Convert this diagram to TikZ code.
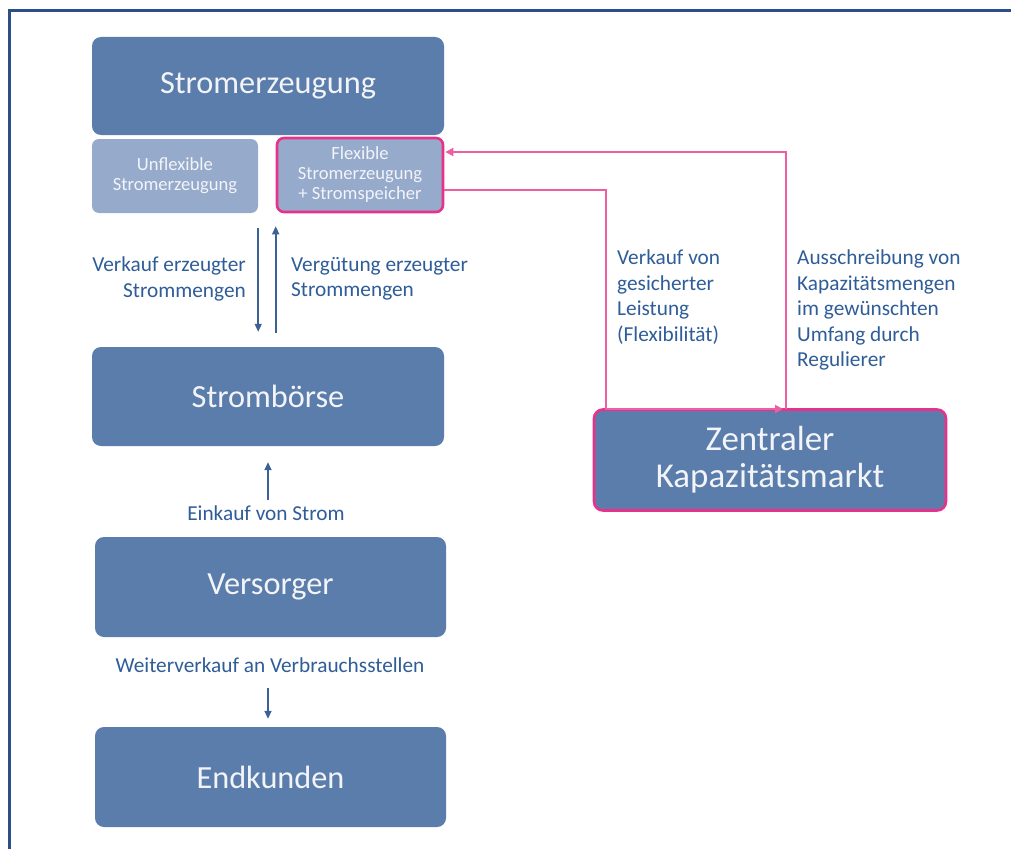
\documentclass[tikz,border=0pt]{standalone}
\usepackage{fontspec}
\setmainfont{Carlito}
\usetikzlibrary{arrows.meta}
\definecolor{boxdark}{HTML}{5B7DAB}
\definecolor{boxlight}{HTML}{96AACB}
\definecolor{labelblue}{HTML}{2F5D98}
\definecolor{arrowblue}{HTML}{3C6196}
\definecolor{framec}{HTML}{2B4F86}
\definecolor{pinkc}{HTML}{E8318A}
\definecolor{pinkl}{HTML}{EE5EA2}
\definecolor{boxtext}{HTML}{F2F4F8}
\tikzset{
  bigbox/.style={fill=boxdark, rounded corners=9pt, minimum width=352pt, minimum height=99pt, inner sep=0pt, text=boxtext, font=\fontsize{32.3}{37}\selectfont, align=center},
  smallbox/.style={fill=boxlight, rounded corners=7pt, minimum width=166pt, minimum height=74pt, inner sep=0pt, text=boxtext, font=\fontsize{18.6}{20}\selectfont, align=center},
  pinkborder/.style={draw=pinkc, line width=2.6pt},
  lbl/.style={text=labelblue, font=\fontsize{21.3}{25.5}\selectfont, inner sep=0pt},
  barrow/.style={draw=arrowblue, line width=1.6pt, -{Triangle[width=7pt,length=8pt]}},
  parrow/.style={draw=pinkl, line width=2pt, -{Triangle[width=8pt,length=8pt]}, rounded corners=0pt},
}
\begin{document}
\begin{tikzpicture}[x=1pt,y=-1pt]
\useasboundingbox (0,0) rectangle (1011,848);
\fill[white] (0,0) rectangle (1011,848);
\draw[framec, line width=2.8pt] (9.5,860) -- (9.5,10.5) -- (1020,10.5);

% boxes
\node[bigbox, minimum height=98pt] (erz) at (268,86) {Stromerzeugung};
\node[smallbox] (unflex) at (175,176) {Unflexible\\Stromerzeugung};
\node[smallbox, pinkborder] (flex) at (360,175) {Flexible\\Stromerzeugung\\+ Stromspeicher};
\node[bigbox] (boerse) at (268,396.5) {Strombörse};
\node[bigbox, minimum width=351pt, minimum height=100pt] (vers) at (270.5,587) {Versorger};
\node[bigbox, minimum width=351pt, minimum height=100pt] (endk) at (270.5,777) {Endkunden};
\node[bigbox, pinkborder, minimum height=101pt, font=\fontsize{34.9}{37}\selectfont] (zent) at (770,460) {Zentraler\\Kapazitätsmarkt};

% blue arrows
\draw[barrow, shorten <=15pt, shorten >=15pt] (unflex.south east) -- (unflex.south east |- boerse.north);
\draw[barrow, shorten <=14pt, shorten >=13pt] (flex.south west |- boerse.north) -- (flex.south west);
\draw[barrow, shorten <=37pt, shorten >=16pt] (boerse.south |- vers.north) -- (boerse.south);
\draw[barrow, shorten <=51pt, shorten >=8pt] (boerse.south |- vers.south) -- (boerse.south |- endk.north);

% labels
\node[lbl, anchor=north east, align=right] (l1) at (246,257) {Verkauf erzeugter\\Strommengen};
\node[lbl, anchor=north west, align=left] (l2) at (291,257) {Vergütung erzeugter\\Strommengen};
\node[lbl] (l3) at (266,513) {Einkauf von Strom};
\node[lbl] (l4) at (270,665) {Weiterverkauf an Verbrauchsstellen};
\node[lbl, anchor=north west, align=left] (l5) at (617,250) {Verkauf von\\gesicherter\\Leistung\\(Flexibilität)};
\node[lbl, anchor=north west, align=left] (l6) at (797,250) {Ausschreibung von\\Kapazitätsmengen\\im gewünschten\\Umfang durch\\Regulierer};

% pink connectors
\coordinate (k1) at (606,409);
\coordinate (k2) at (783,409);
\coordinate (k3) at (786,409);
\draw[parrow] ([yshift=-15pt]flex.east) -| (k1) -- (k2);
\draw[parrow] (k3) |- ([yshift=23pt,xshift=1pt]flex.east);
\end{tikzpicture}
\end{document}
